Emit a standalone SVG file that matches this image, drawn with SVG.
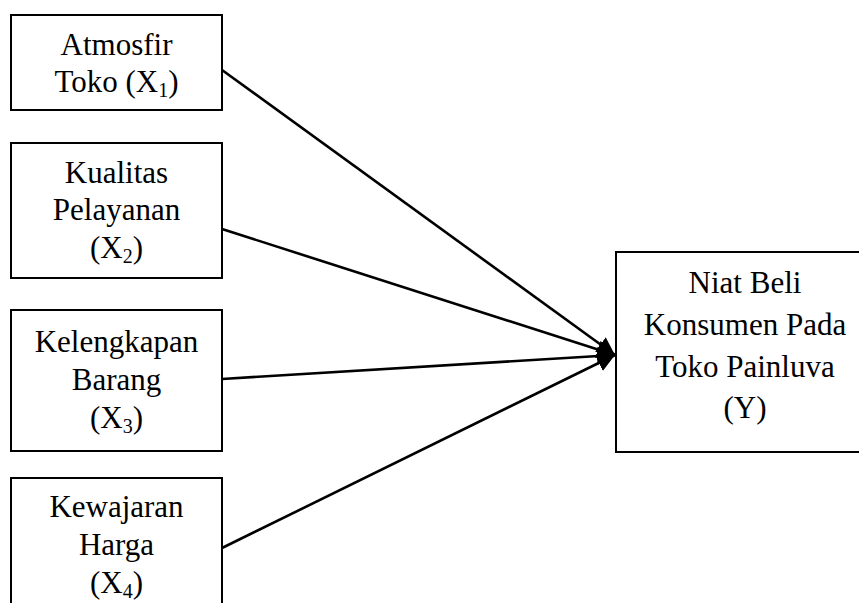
<svg xmlns="http://www.w3.org/2000/svg" width="859" height="603" viewBox="0 0 859 603">
<style>
.box{fill:#fff;stroke:#000;stroke-width:2}
.t{font-family:"Liberation Serif","Times New Roman",serif;font-size:31px;fill:#000;text-anchor:middle}
.sub{font-size:20px}
.c{stroke:#000;stroke-width:2.6;fill:none}
</style>
<defs>
<marker id="ah" markerUnits="userSpaceOnUse" markerWidth="20" markerHeight="20" refX="18" refY="9" orient="auto">
<path d="M0,0 L18,9 L0,18 Z" fill="#000"/>
</marker>
</defs>
<rect width="859" height="603" fill="#fff"/>
<g id="connectors">
<line class="c" x1="222" y1="70" x2="615" y2="355" marker-end="url(#ah)"/>
<line class="c" x1="222" y1="229" x2="615" y2="355" marker-end="url(#ah)"/>
<line class="c" x1="222" y1="379" x2="615" y2="355" marker-end="url(#ah)"/>
<line class="c" x1="222" y1="548" x2="615" y2="355" marker-end="url(#ah)"/>
</g>
<g id="x1">
<rect class="box" x="11" y="15" width="211" height="95"/>
<text class="t" x="116.5" y="55">Atmosfir</text>
<text class="t" x="116.5" y="92">Toko (X<tspan class="sub" dy="5">1</tspan><tspan dy="-5">)</tspan></text>
</g>
<g id="x2">
<rect class="box" x="11" y="143" width="211" height="135"/>
<text class="t" x="116.5" y="183">Kualitas</text>
<text class="t" x="116.5" y="220">Pelayanan</text>
<text class="t" x="116.5" y="258">(X<tspan class="sub" dy="5">2</tspan><tspan dy="-5">)</tspan></text>
</g>
<g id="x3">
<rect class="box" x="11" y="310" width="211" height="141"/>
<text class="t" x="116.5" y="352">Kelengkapan</text>
<text class="t" x="116.5" y="390">Barang</text>
<text class="t" x="116.5" y="428">(X<tspan class="sub" dy="5">3</tspan><tspan dy="-5">)</tspan></text>
</g>
<g id="x4">
<rect class="box" x="11" y="478" width="211" height="140"/>
<text class="t" x="116.5" y="517">Kewajaran</text>
<text class="t" x="116.5" y="555">Harga</text>
<text class="t" x="116.5" y="593">(X<tspan class="sub" dy="5">4</tspan><tspan dy="-5">)</tspan></text>
</g>
<g id="y">
<rect class="box" x="616" y="252" width="260" height="200"/>
<text class="t" x="745" y="293">Niat Beli</text>
<text class="t" x="745" y="335">Konsumen Pada</text>
<text class="t" x="745" y="377">Toko Painluva</text>
<text class="t" x="745" y="418">(Y)</text>
</g>
</svg>
